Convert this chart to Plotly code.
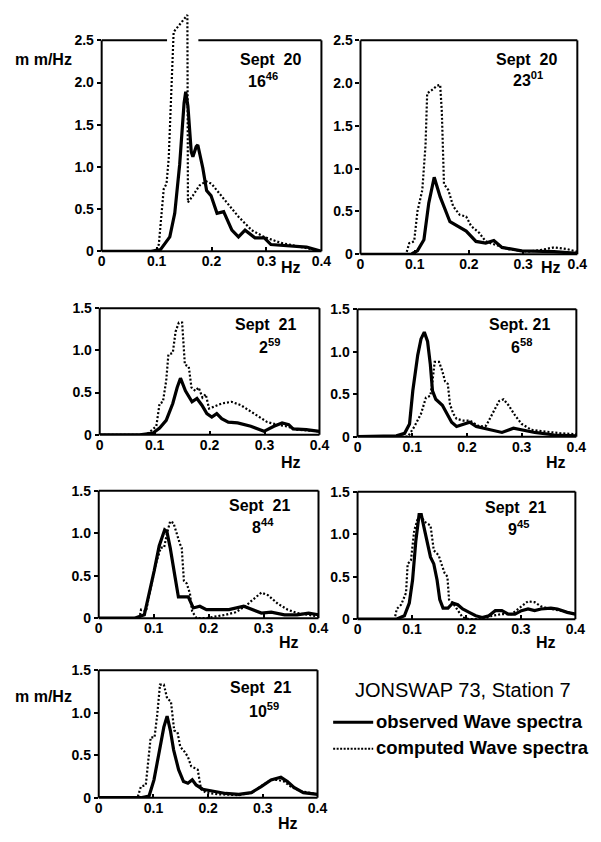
import plotly.graph_objects as go

# ---------------- data (frequency in Hz, spectral density in m m/Hz) ----------------
p1_obs_f = [0.0, 0.09, 0.1, 0.107, 0.124, 0.133, 0.142, 0.15, 0.153, 0.157, 0.163, 0.166, 0.172, 0.175,
            0.184, 0.191, 0.199, 0.21, 0.222, 0.237, 0.249, 0.261, 0.279, 0.296, 0.308, 0.338, 0.373, 0.4]
p1_obs_s = [0.0, 0.0, 0.01, 0.02, 0.17, 0.45, 1.03, 1.76, 1.89, 1.72, 1.18, 1.12, 1.24, 1.26,
            0.99, 0.72, 0.66, 0.45, 0.47, 0.25, 0.17, 0.25, 0.16, 0.16, 0.08, 0.07, 0.05, 0.0]
p1_com_f = [0.0, 0.098, 0.1, 0.104, 0.113, 0.118, 0.122, 0.128, 0.131, 0.156, 0.157, 0.166, 0.178,
            0.19, 0.2, 0.225, 0.249, 0.273, 0.296, 0.326, 0.355, 0.385, 0.4]
p1_com_s = [0.0, 0.0, 0.02, 0.08, 0.74, 0.8, 1.1, 2.2, 2.6, 2.8, 0.58, 0.66, 0.78,
            0.83, 0.8, 0.6, 0.41, 0.25, 0.17, 0.1, 0.06, 0.02, 0.0]

p2_obs_f = [0.0, 0.094, 0.096, 0.105, 0.117, 0.126, 0.136, 0.147, 0.165, 0.195, 0.213, 0.231, 0.246,
            0.261, 0.297, 0.357, 0.4]
p2_obs_s = [0.0, 0.0, 0.01, 0.04, 0.17, 0.6, 0.9, 0.67, 0.38, 0.27, 0.15, 0.13, 0.16,
            0.08, 0.04, 0.03, 0.01]
p2_com_f = [0.0, 0.084, 0.09, 0.099, 0.105, 0.114, 0.12, 0.123, 0.132, 0.141, 0.147, 0.15, 0.154,
            0.162, 0.171, 0.183, 0.195, 0.204, 0.219, 0.231, 0.249, 0.273, 0.309, 0.333, 0.357, 0.381, 0.4]
p2_com_s = [0.0, 0.0, 0.13, 0.15, 0.5, 0.75, 1.28, 1.88, 1.92, 1.97, 1.98, 1.67, 0.82,
            0.75, 0.56, 0.46, 0.44, 0.33, 0.25, 0.15, 0.11, 0.06, 0.03, 0.05, 0.08, 0.06, 0.03]

p3_obs_f = [0.0, 0.073, 0.097, 0.109, 0.121, 0.133, 0.141, 0.147, 0.156, 0.168, 0.177, 0.186, 0.195,
            0.204, 0.213, 0.222, 0.234, 0.251, 0.275, 0.299, 0.317, 0.332, 0.344, 0.352, 0.376, 0.4]
p3_obs_s = [0.0, 0.0, 0.02, 0.08, 0.17, 0.37, 0.56, 0.67, 0.52, 0.39, 0.43, 0.35, 0.25,
            0.21, 0.25, 0.19, 0.15, 0.14, 0.1, 0.04, 0.1, 0.14, 0.12, 0.07, 0.06, 0.04]
p3_com_f = [0.0, 0.085, 0.094, 0.103, 0.109, 0.115, 0.121, 0.125, 0.133, 0.138, 0.144, 0.15, 0.155,
            0.162, 0.167, 0.174, 0.18, 0.187, 0.193, 0.199, 0.207, 0.222, 0.24, 0.257, 0.281, 0.305,
            0.323, 0.34, 0.358, 0.4]
p3_com_s = [0.0, 0.0, 0.05, 0.1, 0.37, 0.39, 0.64, 0.95, 0.97, 1.22, 1.33, 1.33, 0.83,
            0.81, 0.56, 0.52, 0.56, 0.44, 0.48, 0.31, 0.33, 0.37, 0.39, 0.35, 0.25, 0.15,
            0.12, 0.1, 0.06, 0.04]

p4_obs_f = [0.0, 0.071, 0.086, 0.095, 0.101, 0.11, 0.116, 0.122, 0.128, 0.133, 0.137, 0.143, 0.155,
            0.163, 0.172, 0.181, 0.193, 0.205, 0.217, 0.241, 0.264, 0.285, 0.3, 0.324, 0.36, 0.4]
p4_obs_s = [0.0, 0.01, 0.04, 0.15, 0.54, 0.96, 1.15, 1.23, 1.12, 0.85, 0.54, 0.44, 0.37,
            0.27, 0.17, 0.12, 0.15, 0.17, 0.12, 0.08, 0.05, 0.1, 0.08, 0.05, 0.02, 0.01]
p4_com_f = [0.0, 0.092, 0.104, 0.116, 0.125, 0.133, 0.137, 0.141, 0.149, 0.155, 0.16, 0.165, 0.169,
            0.175, 0.181, 0.193, 0.205, 0.214, 0.223, 0.235, 0.247, 0.259, 0.267, 0.276, 0.288,
            0.3, 0.318, 0.342, 0.371, 0.4]
p4_com_s = [0.0, 0.0, 0.12, 0.27, 0.46, 0.48, 0.65, 0.88, 0.88, 0.77, 0.65, 0.62, 0.38,
            0.27, 0.21, 0.19, 0.19, 0.15, 0.12, 0.13, 0.27, 0.42, 0.44, 0.37, 0.25,
            0.15, 0.08, 0.06, 0.04, 0.03]

p5_obs_f = [0.0, 0.065, 0.083, 0.092, 0.101, 0.11, 0.12, 0.124, 0.13, 0.139, 0.145, 0.163, 0.172,
            0.184, 0.196, 0.219, 0.237, 0.264, 0.279, 0.296, 0.314, 0.338, 0.361, 0.382, 0.4]
p5_obs_s = [0.0, 0.0, 0.04, 0.29, 0.56, 0.85, 1.04, 1.02, 0.83, 0.48, 0.25, 0.25, 0.12,
            0.14, 0.1, 0.1, 0.1, 0.14, 0.1, 0.06, 0.07, 0.04, 0.04, 0.06, 0.04]
p5_com_f = [0.0, 0.074, 0.077, 0.086, 0.095, 0.104, 0.113, 0.119, 0.124, 0.13, 0.136, 0.142, 0.148,
            0.151, 0.155, 0.16, 0.166, 0.17, 0.178, 0.195, 0.213, 0.231, 0.249, 0.267, 0.279,
            0.296, 0.308, 0.326, 0.344, 0.361, 0.4]
p5_com_s = [0.0, 0.0, 0.1, 0.08, 0.37, 0.64, 0.83, 0.83, 0.99, 1.14, 1.12, 0.99, 0.87,
            0.83, 0.44, 0.41, 0.29, 0.08, 0.0, 0.0, 0.02, 0.04, 0.07, 0.14, 0.21,
            0.3, 0.27, 0.17, 0.1, 0.06, 0.02]

p6_obs_f = [0.0, 0.071, 0.086, 0.095, 0.101, 0.107, 0.113, 0.117, 0.122, 0.128, 0.134, 0.14, 0.146,
            0.151, 0.157, 0.166, 0.175, 0.184, 0.193, 0.205, 0.217, 0.229, 0.241, 0.253, 0.265,
            0.277, 0.289, 0.301, 0.313, 0.325, 0.337, 0.355, 0.367, 0.385, 0.4]
p6_obs_s = [0.0, 0.0, 0.04, 0.19, 0.46, 0.92, 1.23, 1.23, 1.08, 0.88, 0.73, 0.65, 0.46,
            0.23, 0.13, 0.13, 0.19, 0.17, 0.12, 0.08, 0.04, 0.02, 0.04, 0.1, 0.1,
            0.06, 0.06, 0.1, 0.12, 0.1, 0.12, 0.13, 0.12, 0.08, 0.06]
p6_com_f = [0.0, 0.068, 0.072, 0.08, 0.089, 0.092, 0.098, 0.104, 0.11, 0.116, 0.122, 0.128, 0.134,
            0.14, 0.149, 0.154, 0.16, 0.165, 0.168, 0.175, 0.181, 0.187, 0.193, 0.205, 0.229,
            0.247, 0.265, 0.283, 0.301, 0.313, 0.325, 0.337, 0.355, 0.373, 0.4]
p6_com_s = [0.0, 0.0, 0.12, 0.17, 0.31, 0.65, 0.69, 1.04, 1.17, 1.23, 1.15, 1.12, 1.1,
            0.81, 0.75, 0.65, 0.54, 0.5, 0.23, 0.19, 0.13, 0.08, 0.02, 0.0, 0.0,
            0.04, 0.06, 0.06, 0.15, 0.21, 0.2, 0.15, 0.12, 0.1, 0.06]

p7_obs_f = [0.0, 0.077, 0.092, 0.101, 0.11, 0.119, 0.125, 0.131, 0.137, 0.146, 0.155, 0.163, 0.171,
            0.178, 0.19, 0.208, 0.232, 0.256, 0.279, 0.297, 0.315, 0.333, 0.345, 0.357, 0.374, 0.4]
p7_obs_s = [0.0, 0.0, 0.02, 0.21, 0.52, 0.83, 0.96, 0.79, 0.56, 0.33, 0.19, 0.17, 0.21,
            0.15, 0.1, 0.08, 0.05, 0.04, 0.06, 0.13, 0.21, 0.24, 0.19, 0.12, 0.06, 0.04]
p7_com_f = [0.0, 0.071, 0.077, 0.086, 0.095, 0.102, 0.107, 0.112, 0.119, 0.125, 0.132, 0.138, 0.144,
            0.149, 0.157, 0.163, 0.169, 0.181, 0.187, 0.196, 0.22, 0.256, 0.279, 0.297, 0.315,
            0.327, 0.339, 0.351, 0.368, 0.4]
p7_com_s = [0.0, 0.0, 0.13, 0.15, 0.71, 0.71, 0.98, 1.33, 1.33, 1.17, 1.13, 0.79, 0.77,
            0.6, 0.54, 0.48, 0.37, 0.33, 0.1, 0.06, 0.04, 0.03, 0.06, 0.13, 0.21,
            0.21, 0.19, 0.13, 0.08, 0.04]

dates = ["Sept  20", "Sept  20", "Sept  21", "Sept. 21", "Sept  21", "Sept  21", "Sept  21"]
hours = ["16", "23", "2", "6", "8", "9", "10"]
minutes = ["46", "01", "59", "58", "44", "45", "59"]

x_tick_vals = [0, 0.1, 0.2, 0.3, 0.4]
x_tick_text = ["0", "0.1", "0.2", "0.3", "0.4"]
y_tick_vals_big = [0, 0.5, 1.0, 1.5, 2.0, 2.5]
y_tick_text_big = ["0", "0.5", "1.0", "1.5", "2.0", "2.5"]
y_tick_vals_small = [0, 0.5, 1.0, 1.5]
y_tick_text_small = ["0", "0.5", "1.0", "1.5"]

series = [
    (p1_obs_f, p1_obs_s, p1_com_f, p1_com_s),
    (p2_obs_f, p2_obs_s, p2_com_f, p2_com_s),
    (p3_obs_f, p3_obs_s, p3_com_f, p3_com_s),
    (p4_obs_f, p4_obs_s, p4_com_f, p4_com_s),
    (p5_obs_f, p5_obs_s, p5_com_f, p5_com_s),
    (p6_obs_f, p6_obs_s, p6_com_f, p6_com_s),
    (p7_obs_f, p7_obs_s, p7_com_f, p7_com_s),
]

# ---------------- layout geometry (pixels) ----------------
W, H = 601, 842
# left, right, top(of frame), bottom, ymax of frame
boxes = [
    (100, 325, 33, 248, 2.5),
    (365, 587, 33, 251, 2.5),
    (98, 323, 306, 435, 1.5),
    (362, 586, 307, 437, 1.5),
    (97, 322, 492, 622, 1.5),
    (362, 585, 493, 623, 1.5),
    (97, 321, 675, 805, 1.5),
]
label_pos = [  # (date x, date y, time x, time y)
    (273, 52, 265, 73), (535, 52, 537, 72), (268, 323, 272, 345), (528, 323, 530, 345),
    (262, 507, 265, 528), (524, 509, 527, 530), (263, 693, 266, 716),
]
hz_pos = [(294, 265), (560, 265), (294, 463), (565, 463), (292, 647), (555, 647), (291, 831)]

FONT = "Liberation Sans"
px = lambda x: x / W
py = lambda y: 1 - y / H

fig = go.Figure()
shapes = []
annotations = []

for i, (box, (of, os_, cf, cs)) in enumerate(zip(boxes, series)):
    l, r, t, b, ymax = box
    sfx = "" if i == 0 else str(i + 1)
    xid, yid = "x" + sfx, "y" + sfx
    scale = (b - t) / ymax
    top_px = 3 if i == 0 else t
    yrange_top = (b - top_px) / scale

    fig.add_trace(go.Scatter(x=cf, y=cs, mode="lines", xaxis=xid, yaxis=yid, showlegend=False,
                             hoverinfo="skip",
                             line=dict(color="black", width=2.2, dash="2px,2px")))
    fig.add_trace(go.Scatter(x=of, y=os_, mode="lines", xaxis=xid, yaxis=yid, showlegend=False,
                             hoverinfo="skip",
                             line=dict(color="black", width=3.2)))

    big = ymax > 2
    fig.update_layout(**{
        "xaxis" + sfx: dict(domain=[px(l), px(r)], range=[0, 0.4], anchor=yid,
                            tickvals=x_tick_vals, ticktext=x_tick_text, ticks="inside",
                            ticklen=4, tickwidth=2, tickcolor="black", showgrid=False,
                            zeroline=False, showline=False, fixedrange=True,
                            tickfont=dict(family=FONT, size=14, color="black", weight="bold")),
        "yaxis" + sfx: dict(domain=[py(b), py(top_px)], range=[0, yrange_top], anchor=xid,
                            tickvals=y_tick_vals_big if big else y_tick_vals_small,
                            ticktext=y_tick_text_big if big else y_tick_text_small,
                            ticks="outside", ticklen=4, tickwidth=2, tickcolor="black",
                            showgrid=False, zeroline=False, showline=False, fixedrange=True,
                            tickfont=dict(family=FONT, size=14, color="black", weight="bold")),
    })

    # frame drawn in page coordinates
    ln = dict(color="black", width=2)
    X0, X1, Y0, Y1 = px(l), px(r), py(b), py(t)
    shapes.append(dict(type="line", xref="paper", yref="paper", x0=X0, x1=X0, y0=Y0, y1=Y1, line=ln))
    shapes.append(dict(type="line", xref="paper", yref="paper", x0=X1, x1=X1, y0=Y0, y1=Y1, line=ln))
    shapes.append(dict(type="line", xref="paper", yref="paper", x0=X0, x1=X1, y0=Y0, y1=Y0, line=ln))
    if i == 0:
        gap_a = px(l + (r - l) * 0.119 / 0.4)
        gap_b = px(l + (r - l) * 0.176 / 0.4)
        shapes.append(dict(type="line", xref="paper", yref="paper", x0=X0, x1=gap_a, y0=Y1, y1=Y1, line=ln))
        shapes.append(dict(type="line", xref="paper", yref="paper", x0=gap_b, x1=X1, y0=Y1, y1=Y1, line=ln))
    else:
        shapes.append(dict(type="line", xref="paper", yref="paper", x0=X0, x1=X1, y0=Y1, y1=Y1, line=ln))

    dx, dy, tx, ty = label_pos[i]
    annotations.append(dict(x=px(dx), y=py(dy), xref="paper", yref="paper", text=dates[i],
                            showarrow=False, xanchor="center", yanchor="middle",
                            font=dict(family=FONT, size=16, color="black", weight="bold")))
    annotations.append(dict(x=px(tx), y=py(ty), xref="paper", yref="paper",
                            text=hours[i] + "<sup>" + minutes[i] + "</sup>",
                            showarrow=False, xanchor="center", yanchor="middle",
                            font=dict(family=FONT, size=16, color="black", weight="bold")))
    hx, hy = hz_pos[i]
    annotations.append(dict(x=px(hx), y=py(hy), xref="paper", yref="paper", text="Hz",
                            showarrow=False, xanchor="center", yanchor="middle",
                            font=dict(family=FONT, size=16, color="black", weight="bold")))

# y-axis unit labels
for (ux, uy) in [(40, 52), (40, 702)]:
    annotations.append(dict(x=px(ux), y=py(uy), xref="paper", yref="paper", text="m m/Hz",
                            showarrow=False, xanchor="center", yanchor="middle",
                            font=dict(family=FONT, size=16, color="black", weight="bold")))

# legend block
annotations.append(dict(x=px(470), y=py(695), xref="paper", yref="paper",
                        text="JONSWAP 73, Station 7", showarrow=False,
                        xanchor="center", yanchor="middle",
                        font=dict(family=FONT, size=20, color="black")))
shapes.append(dict(type="line", xref="paper", yref="paper", x0=px(337), x1=px(378),
                   y0=py(728), y1=py(728), line=dict(color="black", width=3)))
shapes.append(dict(type="line", xref="paper", yref="paper", x0=px(337), x1=px(378),
                   y0=py(755), y1=py(755), line=dict(color="black", width=2, dash="2px,1.5px")))
annotations.append(dict(x=px(379), y=py(727), xref="paper", yref="paper",
                        text="observed Wave spectra", showarrow=False,
                        xanchor="left", yanchor="middle",
                        font=dict(family=FONT, size=18.5, color="black", weight="bold")))
annotations.append(dict(x=px(379), y=py(754), xref="paper", yref="paper",
                        text="computed Wave spectra", showarrow=False,
                        xanchor="left", yanchor="middle",
                        font=dict(family=FONT, size=18.5, color="black", weight="bold")))

fig.update_layout(width=W, height=H, margin=dict(l=0, r=0, t=0, b=0, pad=0),
                  paper_bgcolor="white", plot_bgcolor="white", hovermode=False,
                  shapes=shapes, annotations=annotations, showlegend=False)

fig.write_html("out.html", config={"displayModeBar": False, "staticPlot": True},
               post_script="document.body.style.margin='0';document.body.style.overflow='hidden';")
